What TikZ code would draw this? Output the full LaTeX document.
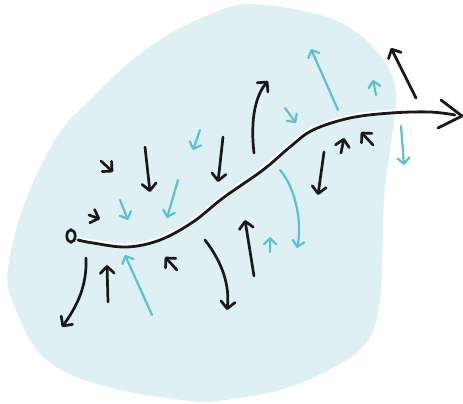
\documentclass[tikz,border=0pt]{standalone}
\usetikzlibrary{arrows.meta}
\definecolor{blob}{RGB}{223,240,245}
\definecolor{cy}{RGB}{92,192,210}
\definecolor{ink}{RGB}{26,24,24}
\tikzset{
  karr/.style={draw=ink, line width=2.7pt, line cap=round, line join=round,
    -{Straight Barb[length=7pt,width=14pt,round]}},
  carr/.style={draw=cy, line width=2.2pt, line cap=round, line join=round,
    -{Straight Barb[length=6pt,width=12pt,round]}},
}
\begin{document}
\begin{tikzpicture}[x=1pt,y=-1pt]
\useasboundingbox (0,0) rectangle (463,404);
% blob
\fill[blob] plot[smooth cycle, tension=0.6] coordinates {
 (230,7) (265,5) (320,15) (358,33) (388,67) (396,100) (390,150) (384,200)
 (380,300) (366,343) (331,369) (280,390) (231,399) (190,401) (100,385)
 (43,357) (14,305) (8,269) (25,202) (58,135) (93,97) (130,62) (175,31)};
% main curve
\coordinate (s) at (77,240);
\coordinate (e) at (462,116);
\draw[white, line width=5pt, line cap=round, yshift=1pt]
  plot[smooth, tension=0.6] coordinates {(78,240) (93,243) (127,247) (160,240) (193,222) (223,198) (263,170) (290,147) (313,130) (350,118) (391,113) (430,112) (455,115)};
\draw[ink, line width=2.8pt, line cap=round]
  plot[smooth, tension=0.6] coordinates {(78,240) (93,243) (127,247) (160,240) (193,222) (223,198) (263,170) (290,147) (313,130) (350,118) (391,113) (430,112) (455,115)};
\draw[ink, line width=2.8pt, line cap=round, line join=round] (441,100) -- (e) -- (438,128);
\draw[ink, line width=2.7pt] (71,236) ellipse [x radius=4.2pt, y radius=6.2pt];
% black arrows
\draw[karr] (101,161) -- (113,172);
\draw[karr] (145,147) -- (150,192);
\draw[karr] (223,137) -- (218,182);
\draw[karr] (89,215) -- (100,219);
\draw[karr] (108,302) -- (107,265);
\draw[karr] (177,270) -- (165,257);
\draw[karr] (254,276) -- (245,220);
\draw[karr] (324,152) -- (318,195);
\draw[karr] (341,153) -- (344,138);
\draw[karr] (373,145) -- (361,132);
\draw[karr] (416,98) -- (391,48);
\draw[karr] (86,258) .. controls (87,285) and (78,305) .. (62,327);
\draw[karr] (205,240) .. controls (222,262) and (230,285) .. (227,310);
\draw[karr] (254,153) .. controls (250,118) and (256,95) .. (268,81);
% cyan arrows
\draw[carr] (200,130) -- (193,150);
\draw[carr] (178,180) -- (167,218);
\draw[carr] (120,200) -- (128,220);
\draw[carr] (152,315) -- (125,255);
\draw[carr] (270,252) -- (270,237);
\draw[carr] (285,108) -- (296,123);
\draw[carr] (338,110) -- (311,49);
\draw[carr] (376,95) -- (373,80);
\draw[carr] (401,126) -- (404,165);
\draw[carr] (280,170) .. controls (297,190) and (302,225) .. (297,248);
\end{tikzpicture}
\end{document}
